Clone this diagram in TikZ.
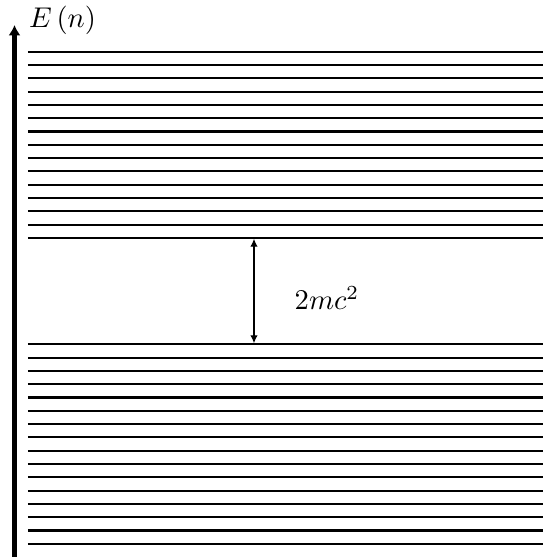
\documentclass[tikz,border=0pt]{standalone}
\usetikzlibrary{arrows.meta}
\begin{document}
\begin{tikzpicture}[x=0.35pt,y=-0.35pt,
  level/.style={line width=0.72pt},
  axis/.style={line width=1.45pt,-{Latex[length=3.6pt,width=4.2pt]}},
  gap/.style={line width=0.45pt,{Latex[length=2.8pt,width=2.6pt]}-{Latex[length=2.8pt,width=2.6pt]}}]
\useasboundingbox (0,0) rectangle (543,557);
\coordinate (a0) at (14.5,557);
\coordinate (a1) at (14.5,25);
\draw[axis] (a0) -- (a1);
\node[anchor=west,inner sep=0pt] (lbl) at (28.5,20) {$E\left(n\right)$};
\foreach \k in {0,...,14}{
  \draw[level] (28,51.7+13.3*\k) -- (543,51.7+13.3*\k);
}
\foreach \k in {0,...,15}{
  \draw[level] (28,344.3+13.3*\k) -- (543,344.3+13.3*\k);
}
\coordinate (gt) at (254,238.7);
\coordinate (gb) at (254,343.3);
\draw[gap] (gt) -- (gb);
\node[inner sep=0pt] (mc) at (327,298) {$2mc^2$};
\end{tikzpicture}
\end{document}
